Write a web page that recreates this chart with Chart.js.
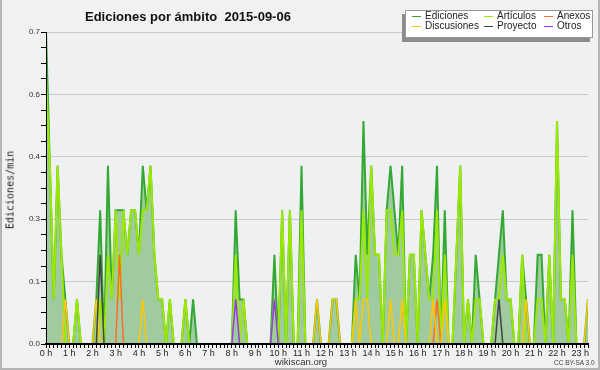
<!DOCTYPE html>
<html>
<head>
<meta charset="utf-8">
<script src="https://cdn.jsdelivr.net/npm/chart.js@4.4.1/dist/chart.umd.min.js"></script>
<style>
  body { margin: 0; background: #fff; }
  #wrap { position: relative; width: 600px; height: 370px; background: #f1f1f1; overflow: hidden; }
  #wrap canvas { position: absolute; left: 0; top: 0; }
  #frame { position: absolute; left: 0; top: 0; width: 600px; height: 370px; box-sizing: border-box;
    border: 2px solid #b4b4b4; border-top: none; pointer-events: none; }
  .txt { position: absolute; font-family: "Liberation Sans", Arial, sans-serif; color: #222; white-space: nowrap; }
  #title { left: 85px; top: 9px; font-size: 13px; font-weight: bold; color: #111; }
  #ytitle { left: 10px; top: 190px; font-family: "DejaVu Sans Mono", monospace; font-size: 10px;
    transform: translate(-50%, -50%) rotate(-90deg); }
  #site { left: 301px; top: 356px; transform: translateX(-50%); font-size: 9.5px; color: #333; }
  #lic { left: 554px; top: 359px; font-size: 6.5px; color: #444; }
  #legend { position: absolute; left: 405px; top: 10px; width: 188px; height: 28px; background: #fff;
    border: 1px solid #999; box-sizing: border-box; box-shadow: -3px 4px 0 #8c8c8c; }
  .item { position: absolute; font-family: "Liberation Sans", Arial, sans-serif; font-size: 10px; color: #222; line-height: 10px; }
  .item i { position: absolute; left: -13px; top: 5px; width: 9px; height: 1px; }
</style>
</head>
<body>
<div id="wrap">
  <canvas id="chart" width="600" height="370"></canvas>
  <div id="title" class="txt">Ediciones por ámbito&nbsp;&nbsp;2015-09-06</div>
  <div id="ytitle" class="txt">Ediciones/min</div>
  <div id="site" class="txt">wikiscan.org</div>
  <div id="lic" class="txt">CC BY-SA 3.0</div>
  <div id="legend"></div>
  <div id="frame"></div>
</div>
<script>
// one value per 10 minutes, 00:00 -> 23:20
const hourLabels = ['0 h', '1 h', '2 h', '3 h', '4 h', '5 h', '6 h', '7 h', '8 h', '9 h', '10 h', '11 h',
    '12 h', '13 h', '14 h', '15 h', '16 h', '17 h', '18 h', '19 h', '20 h', '21 h', '22 h', '23 h'];

const ediciones = [
    0.7, 0.4, 0.1, 0.4, 0.2, 0.1, 0, 0, 0.1, 0, 0, 0,
    0, 0.1, 0.3, 0, 0.4, 0.1, 0.3, 0.3, 0.3, 0.2, 0.3, 0.3,
    0.2, 0.4, 0.3, 0.4, 0.2, 0.1, 0.1, 0, 0.1, 0, 0, 0,
    0.1, 0, 0.1, 0, 0, 0, 0, 0, 0, 0, 0, 0,
    0, 0.3, 0.1, 0.1, 0, 0, 0, 0, 0, 0, 0, 0.2,
    0, 0.3, 0, 0.3, 0, 0, 0.4, 0, 0, 0, 0.1, 0,
    0, 0, 0.1, 0.1, 0, 0, 0, 0, 0.2, 0.1, 0.5, 0.2,
    0.4, 0.2, 0.2, 0, 0.3, 0.4, 0.3, 0.2, 0.4, 0, 0.2, 0.2,
    0, 0.3, 0.2, 0.1, 0.2, 0.4, 0, 0.3, 0, 0, 0.2, 0.4,
    0, 0.1, 0, 0.2, 0.1, 0, 0, 0, 0.1, 0.2, 0.3, 0.1,
    0.1, 0, 0, 0.2, 0.1, 0, 0, 0.2, 0.2, 0, 0.2, 0,
    0.5, 0.1, 0.1, 0, 0.3, 0, 0, 0, 0.1
];
const articulos = [
    0.6, 0.4, 0.1, 0.4, 0.2, 0, 0, 0, 0.1, 0, 0, 0,
    0, 0, 0.1, 0, 0.2, 0.1, 0.3, 0.1, 0.3, 0.2, 0.3, 0.3,
    0.2, 0.3, 0.3, 0.4, 0.2, 0.1, 0.1, 0, 0.1, 0, 0, 0,
    0.1, 0, 0, 0, 0, 0, 0, 0, 0, 0, 0, 0,
    0, 0.2, 0, 0.1, 0, 0, 0, 0, 0, 0, 0, 0.1,
    0, 0.3, 0, 0.3, 0, 0, 0.3, 0, 0, 0, 0, 0,
    0, 0, 0, 0, 0, 0, 0, 0, 0.1, 0.1, 0.3, 0.1,
    0.4, 0.2, 0.2, 0, 0.3, 0.3, 0.2, 0.2, 0.3, 0, 0.2, 0.2,
    0, 0.3, 0.2, 0.1, 0.1, 0.3, 0, 0.2, 0, 0, 0.2, 0.4,
    0, 0.1, 0, 0.1, 0.1, 0, 0, 0, 0.1, 0.1, 0.2, 0.1,
    0.1, 0, 0, 0.2, 0, 0, 0, 0.1, 0.1, 0, 0.2, 0,
    0.5, 0.1, 0.1, 0, 0.2, 0, 0, 0, 0
];
const anexos = [
    0, 0, 0, 0, 0, 0, 0, 0, 0, 0, 0, 0,
    0, 0, 0, 0, 0, 0, 0, 0.2, 0, 0, 0, 0,
    0, 0, 0, 0, 0, 0, 0, 0, 0, 0, 0, 0,
    0, 0, 0, 0, 0, 0, 0, 0, 0, 0, 0, 0,
    0, 0, 0, 0, 0, 0, 0, 0, 0, 0, 0, 0,
    0, 0, 0, 0, 0, 0, 0, 0, 0, 0, 0, 0,
    0, 0, 0, 0, 0, 0, 0, 0, 0, 0, 0, 0,
    0, 0, 0, 0, 0, 0, 0, 0, 0, 0, 0, 0,
    0, 0, 0, 0, 0, 0.1, 0, 0, 0, 0, 0, 0,
    0, 0, 0, 0, 0, 0, 0, 0, 0, 0, 0, 0,
    0, 0, 0, 0, 0, 0, 0, 0, 0, 0, 0, 0,
    0, 0, 0, 0, 0, 0, 0, 0, 0
];
const discusiones = [
    0, 0, 0, 0, 0, 0.1, 0, 0, 0, 0, 0, 0,
    0, 0.1, 0, 0, 0, 0, 0, 0, 0, 0, 0, 0,
    0, 0.1, 0, 0, 0, 0, 0, 0, 0, 0, 0, 0,
    0, 0, 0, 0, 0, 0, 0, 0, 0, 0, 0, 0,
    0, 0, 0, 0, 0, 0, 0, 0, 0, 0, 0, 0,
    0, 0, 0, 0, 0, 0, 0, 0, 0, 0, 0.1, 0,
    0, 0, 0.1, 0.1, 0, 0, 0, 0, 0.1, 0, 0.1, 0.1,
    0, 0, 0, 0, 0, 0.1, 0, 0, 0.1, 0, 0, 0,
    0, 0, 0, 0, 0.1, 0, 0, 0.1, 0, 0, 0, 0,
    0, 0, 0, 0, 0, 0, 0, 0, 0, 0, 0, 0,
    0, 0, 0, 0, 0.1, 0, 0, 0, 0, 0, 0, 0,
    0, 0, 0, 0, 0, 0, 0, 0, 0.1
];
const proyecto = [
    0, 0, 0, 0, 0, 0, 0, 0, 0, 0, 0, 0,
    0, 0, 0.2, 0, 0, 0, 0, 0, 0, 0, 0, 0,
    0, 0, 0, 0, 0, 0, 0, 0, 0, 0, 0, 0,
    0, 0, 0, 0, 0, 0, 0, 0, 0, 0, 0, 0,
    0, 0, 0, 0, 0, 0, 0, 0, 0, 0, 0, 0,
    0, 0, 0, 0, 0, 0, 0, 0, 0, 0, 0, 0,
    0, 0, 0, 0, 0, 0, 0, 0, 0, 0, 0, 0,
    0, 0, 0, 0, 0, 0, 0, 0, 0, 0, 0, 0,
    0, 0, 0, 0, 0, 0, 0, 0, 0, 0, 0, 0,
    0, 0, 0, 0, 0, 0, 0, 0, 0, 0.1, 0, 0,
    0, 0, 0, 0, 0, 0, 0, 0, 0, 0, 0, 0,
    0, 0, 0, 0, 0, 0, 0, 0, 0
];
const otros = [
    0, 0, 0, 0, 0, 0, 0, 0, 0, 0, 0, 0,
    0, 0, 0, 0, 0, 0, 0, 0, 0, 0, 0, 0,
    0, 0, 0, 0, 0, 0, 0, 0, 0, 0, 0, 0,
    0, 0, 0, 0, 0, 0, 0, 0, 0, 0, 0, 0,
    0, 0.1, 0, 0, 0, 0, 0, 0, 0, 0, 0, 0.1,
    0, 0, 0, 0, 0, 0, 0, 0, 0, 0, 0, 0,
    0, 0, 0, 0, 0, 0, 0, 0, 0, 0, 0, 0,
    0, 0, 0, 0, 0, 0, 0, 0, 0, 0, 0, 0,
    0, 0, 0, 0, 0, 0, 0, 0, 0, 0, 0, 0,
    0, 0, 0, 0, 0, 0, 0, 0, 0, 0, 0, 0,
    0, 0, 0, 0, 0, 0, 0, 0, 0, 0, 0, 0,
    0, 0, 0, 0, 0, 0, 0, 0, 0
];

const series = [
    { name: 'Ediciones', data: ediciones, color: '#33a833', width: 2 },
    { name: 'Artículos', data: articulos, color: '#9be800', width: 2 },
    { name: 'Anexos', data: anexos, color: '#ff6a2a', width: 1.5 },
    { name: 'Discusiones', data: discusiones, color: '#ffc800', width: 1.5 },
    { name: 'Proyecto', data: proyecto, color: '#444444', width: 1.5 },
    { name: 'Otros', data: otros, color: '#9933ff', width: 1.5 }
];

// slot number on the x axis (one per 10 min)
const slots = [];
for (let i = 0; i < ediciones.length; i++) slots.push(i);

//Legend (html)
const legendPos = [[424, 6], [496, 6], [556, 6], [424, 16], [496, 16], [556, 16]];
const legendBox = document.getElementById('legend');
series.forEach((s, k) => {
    const el = document.createElement('div');
    el.className = 'item';
    el.style.left = (legendPos[k][0] - 405) + 'px';
    el.style.top = (legendPos[k][1] - 10 + 4) + 'px';
    el.innerHTML = '<i style="background:' + s.color + '"></i>' + s.name;
    legendBox.appendChild(el);
});

const plotBg = {
    id: 'plotBg',
    beforeDraw(chart) {
        const { ctx, chartArea: a } = chart;
        ctx.save();
        ctx.fillStyle = '#eef0f2';
        ctx.fillRect(a.left, a.top, a.right - a.left, a.bottom - a.top);
        ctx.restore();
    },
    // axis lines on top of the filled area
    afterDatasetsDraw(chart) {
        const { ctx, chartArea: a } = chart;
        ctx.save();
        ctx.strokeStyle = '#000';
        ctx.lineWidth = 2;
        ctx.beginPath();
        ctx.moveTo(a.left - 1, a.bottom);
        ctx.lineTo(a.right + 1, a.bottom);
        ctx.stroke();
        ctx.lineWidth = 1;
        ctx.beginPath();
        ctx.moveTo(a.left + 0.5, a.top);
        ctx.lineTo(a.left + 0.5, a.bottom);
        ctx.stroke();
        ctx.restore();
    }
};

const hide = 'rgba(0,0,0,0)';

new Chart(document.getElementById('chart'), {
    type: 'line',
    data: {
        labels: slots,
        datasets: series.map((s, k) => ({
            label: s.name,
            data: s.data,
            borderColor: s.color,
            borderWidth: s.width,
            backgroundColor: '#a0cba0',
            fill: k === 0 ? 'origin' : false,
            pointRadius: 0,
            tension: 0,
            order: 10 - k,
            segment: {
                borderColor: c => (c.p0.parsed.y === 0 && c.p1.parsed.y === 0) ? hide : s.color
            }
        }))
    },
    options: {
        responsive: false,
        animation: false,
        layout: { padding: { top: 32, right: 12, left: 0, bottom: 0 } },
        plugins: { legend: { display: false }, title: { display: false }, tooltip: { enabled: false } },
        scales: {
            x: {
                type: 'linear',
                min: 0,
                max: ediciones.length - 1,
                afterFit: s => { s.height = 26; },
                border: { display: false },
                grid: { drawOnChartArea: false, drawTicks: true, tickLength: 4, tickColor: '#000', tickWidth: 1 },
                ticks: {
                    stepSize: 1,
                    autoSkip: false,
                    maxRotation: 0,
                    padding: 0,
                    color: '#222',
                    font: { family: 'Liberation Sans', size: 9 },
                    callback: v => (v % 6 === 0 ? hourLabels[v / 6] : '')
                }
            },
            y: {
                min: 0,
                max: 0.7,
                afterFit: s => { s.width = 46; },
                border: { display: false },
                grid: {
                    color: c => (c.index % 4 === 0 ? '#c9c9c9' : hide),
                    lineWidth: 1,
                    tickLength: 5,
                    tickColor: '#000'
                },
                ticks: {
                    stepSize: 0.035,
                    autoSkip: false,
                    padding: 1,
                    color: '#333',
                    font: { family: 'Liberation Sans', size: 8 },
                    callback: (v, i) => (i % 4 === 0 ? v.toFixed(1) : '')
                }
            }
        }
    },
    plugins: [plotBg]
});
</script>
</body>
</html>
